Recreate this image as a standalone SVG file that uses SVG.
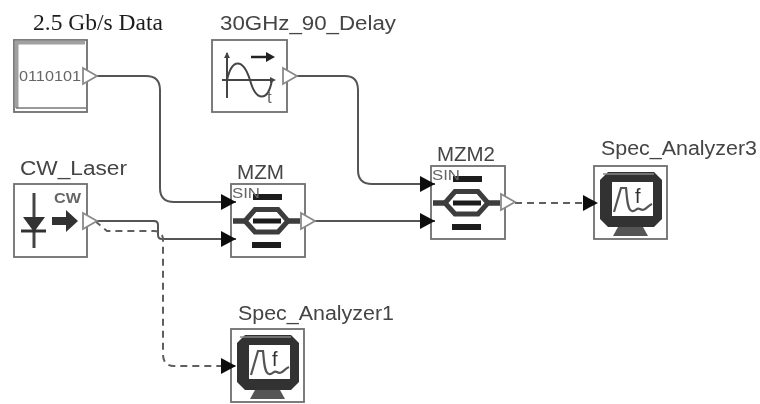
<svg xmlns="http://www.w3.org/2000/svg" xmlns:xlink="http://www.w3.org/1999/xlink" width="760" height="404" viewBox="0 0 760 404">
<style>
.box{fill:#fff;stroke:#6e6e6e;stroke-width:1.8}
.lbl{font-family:"Liberation Sans",Arial,sans-serif;font-size:19.5px;fill:#444}
.small{font-family:"Liberation Sans",Arial,sans-serif;font-size:14.5px;fill:#666}
.port{fill:#fff;stroke:#8a8a8a;stroke-width:1.8}
.wire{fill:none;stroke:#555;stroke-width:2}
.dash{fill:none;stroke:#5e5e5e;stroke-width:2;stroke-dasharray:7 5}
.bar{fill:#1e1e1e}
</style>
<defs>
<filter id="soft" x="-2%" y="-2%" width="104%" height="104%"><feGaussianBlur stdDeviation="0.55"/></filter>
<marker id="arr" markerUnits="userSpaceOnUse" markerWidth="16" markerHeight="16" refX="15" refY="8" orient="auto"><path d="M0 0L15 8L0 16Z" fill="#111"/></marker>
<g id="mod">
<rect class="box" width="74" height="73"/>
<rect class="bar" x="22" y="10" width="29" height="6"/>
<rect class="bar" x="21" y="58" width="29" height="6"/>
<path d="M2 37H14M57 37H69" stroke="#3c3c3c" stroke-width="5.500" fill="none"/>
<path d="M14 37L24 25.500H47L57 37L47 48H24Z" fill="#fff" stroke="#3c3c3c" stroke-width="5"/>
<rect class="bar" x="22" y="34.500" width="28" height="5"/>
<text class="small" x="1" y="14" textLength="28" lengthAdjust="spacingAndGlyphs">SIN</text>
</g>
<g id="mon">
<rect class="box" width="73" height="73"/>
<path d="M19 70L24 61H49L54 70Z" fill="#555"/>
<path d="M14 6H60L68 14V53L60 61H14L6 53V14Z" fill="#333"/>
<path d="M9 8H60" stroke="#888" stroke-width="1.500"/>
<path d="M18 16H59V50H18Z" fill="#fff"/>
<path d="M20 46L27 22H32C33 30 33 44 38 45C42 46 42 41 46 43C51 46 53 40 58 38" fill="none" stroke="#555" stroke-width="2.200"/>
<text class="small" x="41" y="37" style="font-size:20px;fill:#333">f</text>
</g>
</defs>
<rect width="760" height="404" fill="#fff"/>
<g filter="url(#soft)">
<g id="data-source">
<rect class="box" x="14" y="40" width="73" height="72"/>
<path d="M16.500 108V42.500H85" fill="none" stroke="#a0a0a0" stroke-width="4"/>
<path d="M16 108H86" stroke="#777" stroke-width="1.400"/>
<text class="small" x="19" y="81" textLength="62" lengthAdjust="spacingAndGlyphs" style="font-size:15px">0110101</text>
<text x="33" y="30" font-family="'Liberation Serif','Times New Roman',serif" font-size="23.500" fill="#1c1c1c">2.5 Gb/s Data</text>
</g>
<g id="delay">
<rect class="box" x="212" y="40" width="75" height="72"/>
<path d="M227 53V98M222 80H274" fill="none" stroke="#444" stroke-width="2"/>
<path d="M224 58L227 52L230 58ZM270 77L276 80L270 83Z" fill="#444"/>
<path d="M227 80C232 58 243 58 250 80C256 102 268 102 272 80" fill="none" stroke="#444" stroke-width="2"/>
<path d="M251 57H268" stroke="#222" stroke-width="2.500"/>
<path d="M266 52L275 57L266 62Z" fill="#222"/>
<text class="small" x="267" y="103" style="font-size:17px">t</text>
<text class="lbl" x="220" y="30" textLength="176" lengthAdjust="spacingAndGlyphs">30GHz_90_Delay</text>
</g>
<g id="cw-laser">
<rect class="box" x="14" y="184" width="73" height="73"/>
<path d="M34 193V248" stroke="#444" stroke-width="3"/>
<path d="M23 217H45L34 232Z" fill="#333"/>
<path d="M21 231H46" stroke="#333" stroke-width="3"/>
<path d="M52 217H66V210L78 221L66 232V225H52Z" fill="#333"/>
<text class="small" x="54" y="203" textLength="27" lengthAdjust="spacingAndGlyphs" font-weight="bold">CW</text>
<text class="lbl" x="20" y="175" textLength="107" lengthAdjust="spacingAndGlyphs">CW_Laser</text>
</g>
<g id="mzm">
<use xlink:href="#mod" href="#mod" x="231" y="184"/>
<text class="lbl" x="237" y="179" textLength="47" lengthAdjust="spacingAndGlyphs">MZM</text>
</g>
<g id="mzm2">
<use xlink:href="#mod" href="#mod" x="431" y="166"/>
<text class="lbl" x="437" y="161" textLength="58" lengthAdjust="spacingAndGlyphs">MZM2</text>
</g>
<g id="spec-analyzer3">
<use xlink:href="#mon" href="#mon" x="594" y="166"/>
<text class="lbl" x="601" y="155" textLength="156" lengthAdjust="spacingAndGlyphs">Spec_Analyzer3</text>
</g>
<g id="spec-analyzer1">
<use xlink:href="#mon" href="#mon" x="231" y="329"/>
<text class="lbl" x="238" y="320" textLength="156" lengthAdjust="spacingAndGlyphs">Spec_Analyzer1</text>
</g>
<g id="connectors">
<path class="wire" marker-end="url(#arr)" d="M97 76H146Q160 76 160 90V188Q160 202 174 202H236"/>
<path class="wire" marker-end="url(#arr)" d="M97 221H154Q158 221 158 225V235Q158 239 162 239H236"/>
<path class="dash" marker-end="url(#arr)" d="M95 221L107 231H154Q163 231 163 240V354Q163 366 174 366H236"/>
<path class="wire" marker-end="url(#arr)" d="M297 76H345Q358 76 358 90V170Q358 184 372 184H435"/>
<path class="wire" marker-end="url(#arr)" d="M315 221H435"/>
<path class="dash" marker-end="url(#arr)" d="M515 203H598"/>
</g>
<g id="ports">
<path class="port" d="M83 68L97 76L83 84Z"/>
<path class="port" d="M283 68L297 76L283 84Z"/>
<path class="port" d="M83 213L97 221L83 229Z"/>
<path class="port" d="M301 213L315 221L301 229Z"/>
<path class="port" d="M501 194L515 202L501 210Z"/>
</g>
</g>
</svg>
